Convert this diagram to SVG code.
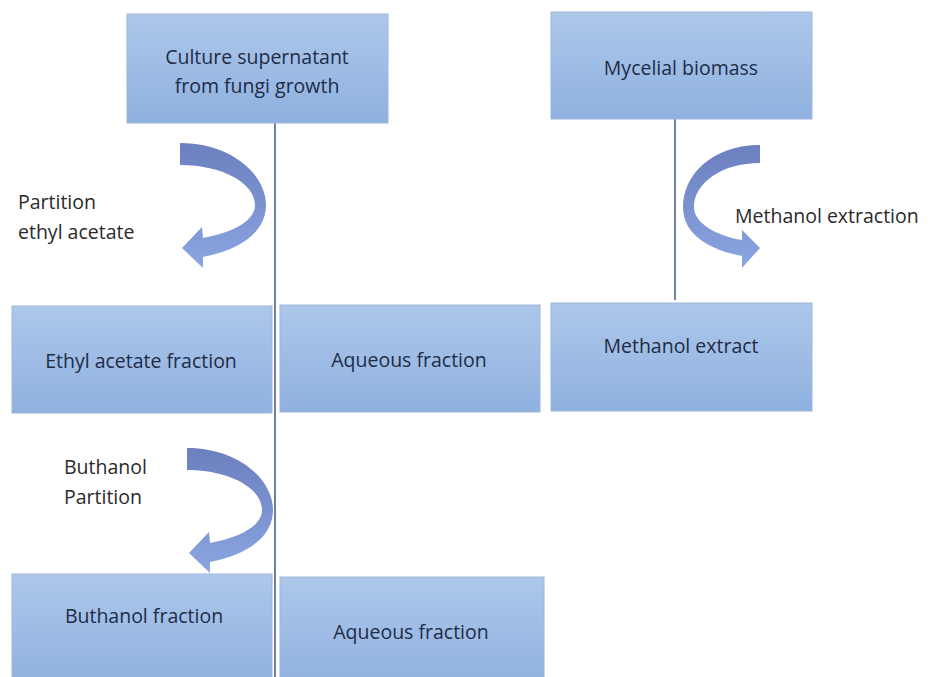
<svg xmlns="http://www.w3.org/2000/svg" width="930" height="677" viewBox="0 0 930 677">
<defs>
<linearGradient id="boxg" x1="0" y1="0" x2="0" y2="1">
<stop offset="0" stop-color="#adc7ea"/>
<stop offset="1" stop-color="#8fb1df"/>
</linearGradient>
<linearGradient id="arrg" x1="0" y1="0" x2="0" y2="1">
<stop offset="0" stop-color="#6c7fbe"/>
<stop offset="1" stop-color="#8ba6e2"/>
</linearGradient>
<style>
.box{fill:url(#boxg);stroke:#9db6d8;stroke-width:1}
.bt{font-family:"Open Sans","Liberation Sans",sans-serif;font-size:19.5px;fill:#1e2c48;text-anchor:middle}
.lt{font-family:"Open Sans","Liberation Sans",sans-serif;font-size:19.5px;fill:#2a2a2a}
.ln{stroke:#6f7f9c;stroke-width:2;fill:none}
.arr{fill:url(#arrg)}
</style>
</defs>
<rect width="930" height="677" fill="#ffffff"/>
<g id="connectors">
<line class="ln" x1="275" y1="123" x2="275" y2="677"/>
<line class="ln" x1="675" y1="119" x2="675" y2="300"/>
<path class="arr" d="M180,143 C232,143 266,175 266,205 C266,232 240,250 203,257 L203,268 L182,248 L202,227 L203,238 C235,232 255,220 255,205 C255,183 222,165 180,165 Z"/>
<path class="arr" d="M187,448 C239,448 273,480 273,510 C273,537 247,555 210,562 L210,573 L189,553 L209,532 L210,543 C242,537 262,525 262,510 C262,488 229,470 187,470 Z"/>
<path class="arr" d="M760,145 C712,145 683,175 683,207 C683,235 710,250 742,256 L742,268 L760,248 L742,230 L742,240 C718,236 694,224 694,207 C694,183 722,163 760,163 Z"/>
</g>
<g id="n-culture">
<rect class="box" x="127" y="14" width="261" height="109"/>
<text class="bt" x="257" y="64">Culture supernatant</text>
<text class="bt" x="257" y="93">from fungi growth</text>
</g>
<g id="n-mycelial">
<rect class="box" x="551" y="12" width="261" height="107"/>
<text class="bt" x="681" y="75">Mycelial biomass</text>
</g>
<g id="n-ethyl">
<rect class="box" x="12" y="306" width="260" height="107"/>
<text class="bt" x="141" y="368">Ethyl acetate fraction</text>
</g>
<g id="n-aqueous1">
<rect class="box" x="280" y="305" width="260" height="107"/>
<text class="bt" x="409" y="367">Aqueous fraction</text>
</g>
<g id="n-methanol">
<rect class="box" x="551" y="303" width="261" height="108"/>
<text class="bt" x="681" y="353">Methanol extract</text>
</g>
<g id="n-buthanol">
<rect class="box" x="12" y="574" width="260" height="110"/>
<text class="bt" x="144" y="623">Buthanol fraction</text>
</g>
<g id="n-aqueous2">
<rect class="box" x="280" y="577" width="264" height="110"/>
<text class="bt" x="411" y="639">Aqueous fraction</text>
</g>
<g id="labels">
<text class="lt" x="18" y="209">Partition</text>
<text class="lt" x="18" y="239">ethyl acetate</text>
<text class="lt" x="64" y="474">Buthanol</text>
<text class="lt" x="64" y="504">Partition</text>
<text class="lt" x="735" y="223">Methanol extraction</text>
</g>
</svg>
